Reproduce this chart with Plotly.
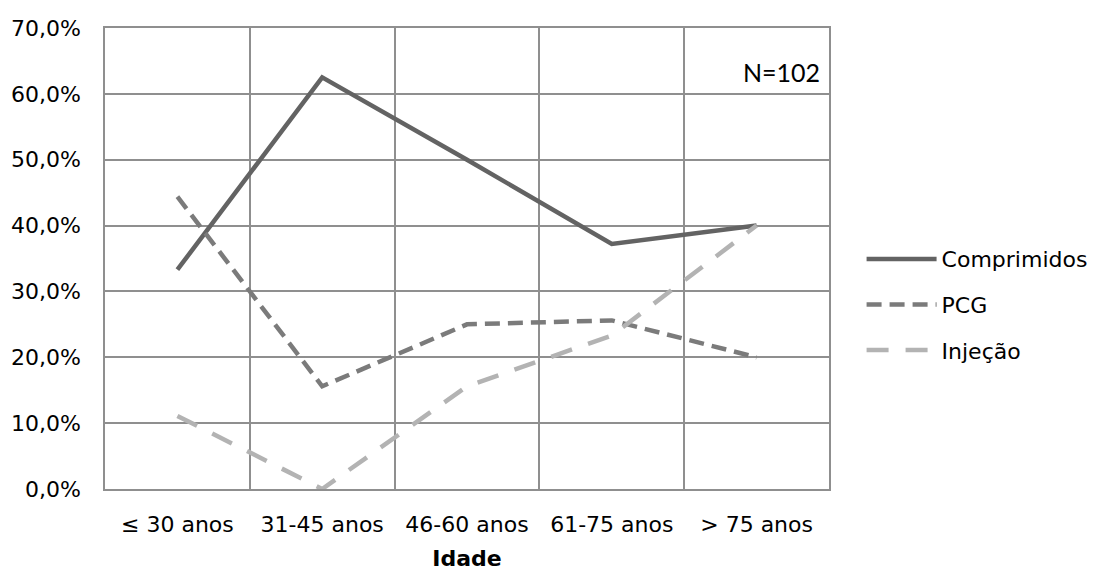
import plotly.graph_objects as go

categories = ["≤ 30 anos", "31-45 anos", "46-60 anos", "61-75 anos", "> 75 anos"]
comprimidos = [33.3, 62.5, 50.0, 37.2, 40.0]
pcg = [44.4, 15.6, 25.0, 25.6, 20.0]
injecao = [11.1, 0.0, 15.6, 23.3, 40.0]

font_main = "DejaVu Sans"

fig = go.Figure()
fig.add_trace(go.Scatter(x=categories, y=comprimidos, name="Comprimidos", mode="lines",
                         legendgroup="a",
                         line=dict(color="#636363", width=4.5)))
fig.add_trace(go.Scatter(x=categories, y=pcg, name="PCG", mode="lines",
                         legendgroup="b",
                         line=dict(color="#7b7b7b", width=4.5, dash="15px,8px")))
fig.add_trace(go.Scatter(x=categories, y=injecao, name="Injeção", mode="lines",
                         legendgroup="c",
                         line=dict(color="#b3b3b3", width=4.5, dash="22px,17px")))

fig.update_layout(
    width=1107, height=570,
    margin=dict(l=97, r=286, t=20, b=89),
    paper_bgcolor="white", plot_bgcolor="white",
    separators=",.",
    font=dict(family=font_main, size=22, color="#000000"),
    showlegend=True,
    legend=dict(x=1.045, xanchor="left", y=0.40, yanchor="middle",
                font=dict(family=font_main, size=22, color="#000000"),
                itemwidth=70, tracegroupgap=14, bgcolor="rgba(0,0,0,0)"),
    annotations=[dict(text="N=102", xref="paper", yref="paper", x=0.99, y=0.905,
                      xanchor="right", yanchor="middle", showarrow=False,
                      font=dict(family="Lato", size=25, color="#000000"))],
)
fig.update_xaxes(type="category", tickson="boundaries", range=[-0.5, len(categories) - 0.5],
                 showgrid=True, gridcolor="#8f8f8f", gridwidth=1.5, ticks="",
                 showline=True, mirror=True, linecolor="#8f8f8f", linewidth=1.5,
                 ticklabelstandoff=15, automargin=False,
                 title=dict(text="<b>Idade</b>", font=dict(family=font_main, size=22), standoff=14),
                 tickfont=dict(family=font_main, size=22), zeroline=False)
fig.update_yaxes(range=[0, 70], dtick=10, tickformat=".1f", ticksuffix="%",
                 showgrid=True, gridcolor="#8f8f8f", gridwidth=1.5,
                 showline=True, mirror=True, linecolor="#8f8f8f", linewidth=1.5,
                 zeroline=False, ticks="", ticklabelstandoff=18, automargin=False,
                 tickfont=dict(family=font_main, size=22))

fig.write_html("out.html")
